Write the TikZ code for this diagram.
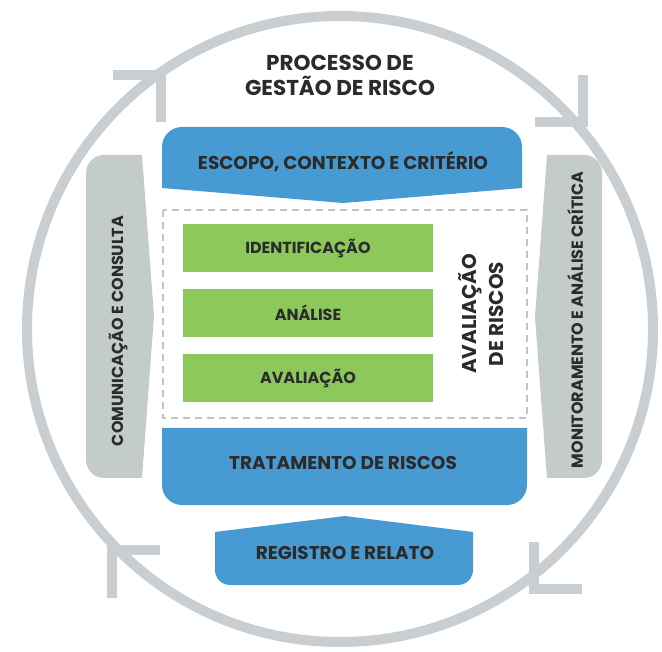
\documentclass[tikz,border=0pt]{standalone}
\usepackage{fontspec}
\setmainfont{Poppins}
\definecolor{ringgray}{HTML}{C8CED2}
\definecolor{sidegray}{HTML}{C3CCC9}
\definecolor{boxblue}{HTML}{479BD2}
\definecolor{boxgreen}{HTML}{8DC85A}
\definecolor{dashgray}{HTML}{BFC4C6}
\definecolor{txt}{HTML}{2B2B2B}
\tikzset{
  ring/.style={ringgray,line width=10pt},
  chevron/.style={ringgray,line width=10pt,line join=miter},
  lbl/.style={text=txt,font=\bfseries,inner sep=0pt,align=center},
}
\begin{document}
\begin{tikzpicture}[x=1pt,y=-1pt]
\useasboundingbox (0,0) rectangle (662,652);
% ring with its four arrow heads
\draw[ring] (340,329) circle (313);
\draw[chevron] (113,75) -- (161,75) -- (161,122);
\draw[chevron] (535,122) -- (583,122) -- (583,75);
\draw[chevron] (534,542) -- (534,589) -- (582,589);
\draw[chevron] (160,550) -- (112,550) -- (112,598);
% side arrows
\fill[sidegray] (142,155) -- (154,316) -- (142,478) [rounded corners=18pt] -- (86,478) -- (86,155) [sharp corners] -- cycle;
\fill[sidegray] (547,478) -- (535,317) -- (547,155) [rounded corners=18pt] -- (602,155) -- (602,478) [sharp corners] -- cycle;
% blue boxes
\fill[boxblue] (162,188) [rounded corners=20pt] -- (162,127) -- (522,127) [sharp corners] -- (522,188) -- (343,203) -- cycle;
\fill[boxblue] (162,428) -- (527,428) [rounded corners=20pt] -- (527,505) -- (162,505) [sharp corners] -- cycle;
\fill[boxblue] (215,532) -- (345,516) -- (473,532) [rounded corners=15pt] -- (473,585) -- (215,585) [sharp corners] -- cycle;
% risk assessment
\draw[dashgray,line width=1.5pt,dash pattern=on 7pt off 5pt] (163,210) rectangle (527,418);
\fill[boxgreen] (183,224) rectangle (433,272);
\fill[boxgreen] (183,289) rectangle (433,337);
\fill[boxgreen] (183,354) rectangle (433,402);
% labels
\node[lbl,font=\bfseries\fontsize{21.5}{25}\selectfont] (title) at (340,75) {PROCESSO DE\\GESTÃO DE RISCO};
\node[lbl,font=\bfseries\fontsize{18.5}{22}\selectfont] (escopo) at (343,162) {ESCOPO, CONTEXTO E CRITÉRIO};
\node[lbl,font=\bfseries\fontsize{16}{19}\selectfont] (ident) at (308,248) {IDENTIFICAÇÃO};
\node[lbl,font=\bfseries\fontsize{16}{19}\selectfont] (analise) at (308,313) {ANÁLISE};
\node[lbl,font=\bfseries\fontsize{16}{19}\selectfont] (avaliacao) at (308,378) {AVALIAÇÃO};
\node[lbl,font=\bfseries\fontsize{20}{27}\selectfont,rotate=90] (avalriscos) at (481,314) {AVALIAÇÃO\\DE RISCOS};
\node[lbl,font=\bfseries\fontsize{16}{19}\selectfont,rotate=90] (comunic) at (118,331) {COMUNICAÇÃO E CONSULTA};
\node[lbl,font=\bfseries\fontsize{16}{19}\selectfont,rotate=90] (monit) at (575,320) {MONITORAMENTO E ANÁLISE CRÍTICA};
\node[lbl,font=\bfseries\fontsize{18.5}{22}\selectfont] (tratamento) at (343,463) {TRATAMENTO DE RISCOS};
\node[lbl,font=\bfseries\fontsize{18.5}{22}\selectfont] (registro) at (345,553) {REGISTRO E RELATO};
\end{tikzpicture}
\end{document}
